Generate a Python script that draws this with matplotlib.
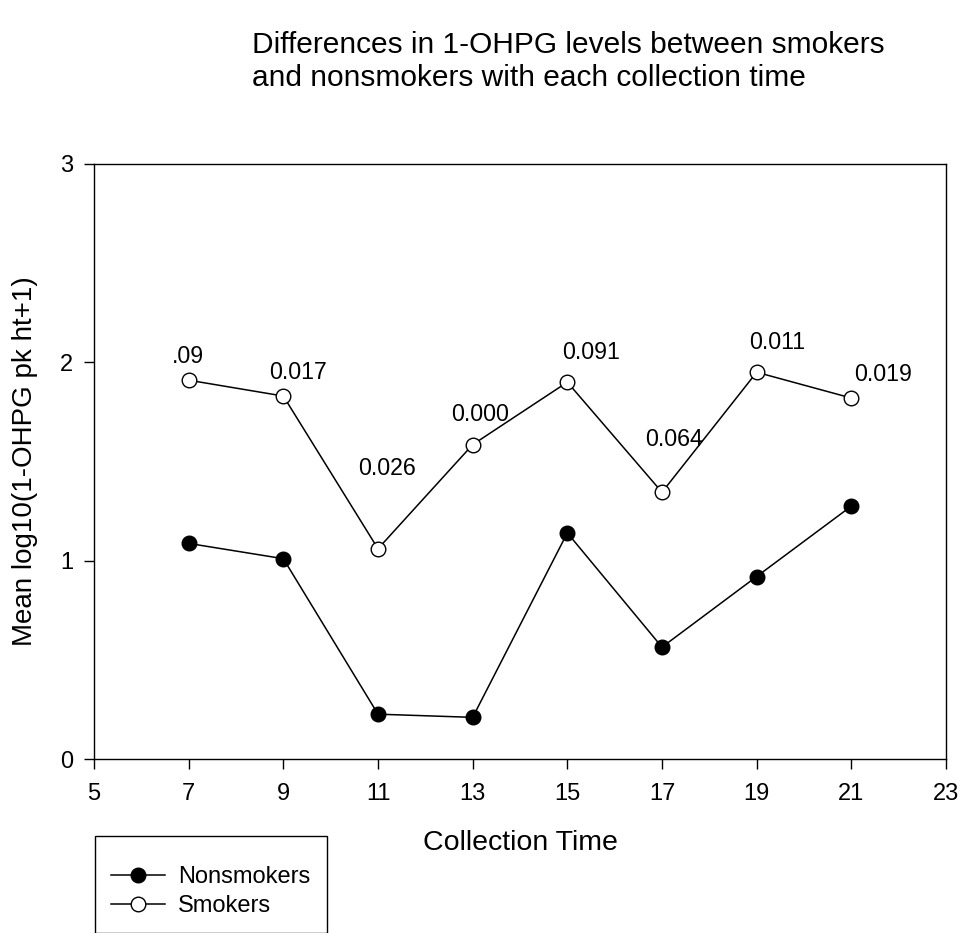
import matplotlib
matplotlib.use('Agg')
import matplotlib.pyplot as plt
from matplotlib.patches import Rectangle

plt.rcParams['font.family'] = ['Liberation Sans', 'DejaVu Sans']

# collection times and group means
times = [7, 9, 11, 13, 15, 17, 19, 21]
nonsmokers = [1.087, 1.01, 0.226, 0.21, 1.14, 0.564, 0.92, 1.275]
smokers = [1.91, 1.83, 1.06, 1.585, 1.90, 1.345, 1.95, 1.82]

# p-value labels and where they sit
p_labels = ['.09', '0.017', '0.026', '0.000', '0.091', '0.064', '0.011', '0.019']
p_x = [6.98, 9.31, 11.19, 13.16, 15.51, 17.26, 19.43, 21.68]
p_y = [2.03, 1.95, 1.465, 1.736, 2.05, 1.61, 2.10, 1.94]

xticks = [5, 7, 9, 11, 13, 15, 17, 19, 21, 23]
yticks = [0, 1, 2, 3]

fig = plt.figure(figsize=(9.63, 9.33), dpi=100)
ax = fig.add_axes([94/963, 1 - 759/933, (946-94)/963, (759-164)/933])

ax.plot(times, nonsmokers, '-o', color='black', lw=1.1, ms=10.5,
        mfc='black', mec='black', mew=1, label='Nonsmokers', clip_on=False)
ax.plot(times, smokers, '-o', color='black', lw=1.1, ms=10.5,
        mfc='white', mec='black', mew=1, label='Smokers', clip_on=False)

for lab, x, y in zip(p_labels, p_x, p_y):
    ax.text(x, y, lab, ha='center', va='center', fontsize=16.7)

ax.set_xlim(5, 23)
ax.set_ylim(0, 3)
ax.set_xticks(xticks)
ax.set_yticks(yticks)
ax.tick_params(direction='out', length=7, width=1, labelsize=17)
ax.tick_params(axis='x', pad=10)
ax.tick_params(axis='y', pad=8)
for s in ax.spines.values():
    s.set_linewidth(1)

ax.set_xlabel('Collection Time', fontsize=20.5, va='center')
ax.xaxis.set_label_coords(0.5, -(843 - 759) / 595)
ax.set_ylabel('Mean log10(1-OHPG pk ht+1)', fontsize=20, va='center')
ax.yaxis.set_label_coords((25 - 94) / 852, 0.5)

fig.text(252/963, 1 - 31/933,
         'Differences in 1-OHPG levels between smokers\nand nonsmokers with each collection time',
         ha='left', va='top', fontsize=21.5, linespacing=1.25)

# legend box runs off the bottom edge like the original
fig.patches.append(Rectangle((95/963, 0), (327-95)/963, (933-845)/933 + 0.01,
                             transform=fig.transFigure, fill=False,
                             edgecolor='black', lw=1, clip_on=False))
fig.legend(loc='upper left', bbox_to_anchor=(111/963, 1 - 866/933),
           frameon=False, fontsize=17, handlelength=2.3, handletextpad=0.55,
           labelspacing=0.3, borderaxespad=0, borderpad=0)

fig.savefig('out.png', dpi=100)
